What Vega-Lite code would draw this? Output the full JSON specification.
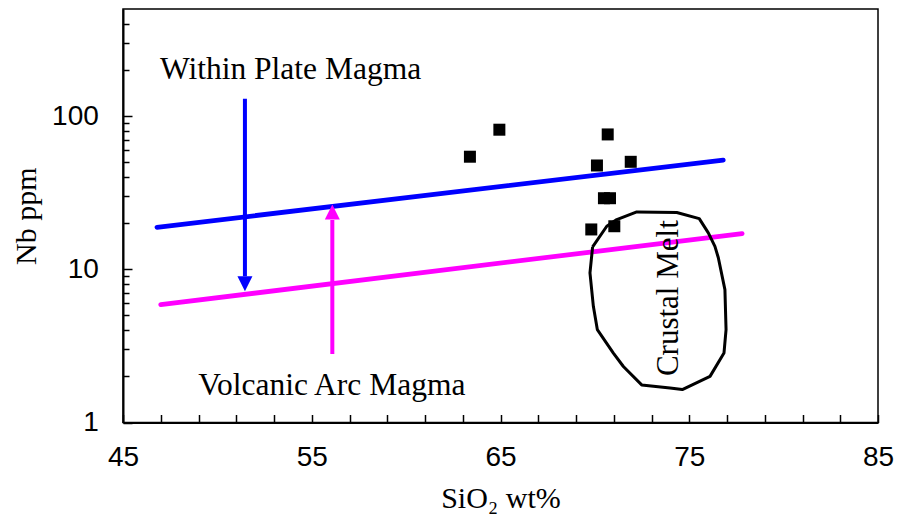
{
  "$schema": "https://vega.github.io/schema/vega-lite/v6.json",
  "width": 755,
  "height": 413.5,
  "autosize": "none",
  "padding": {"left": 123, "top": 9, "right": 27, "bottom": 96.5},
  "background": "white",
  "config": {
    "view": {"stroke": "black", "strokeWidth": 1.5},
    "axis": {
      "domainColor": "black",
      "domainWidth": 2,
      "tickColor": "black",
      "tickWidth": 1.5,
      "grid": false,
      "labelFont": "Liberation Sans",
      "labelFontSize": 28,
      "labelColor": "black",
      "titleFont": "Liberation Serif",
      "titleFontSize": 30,
      "titleFontWeight": "normal",
      "titleColor": "black"
    }
  },
  "datasets": {
    "within_plate": [
      {"x": 46.8, "y": 18.8},
      {"x": 76.8, "y": 51.6}
    ],
    "volcanic_arc": [
      {"x": 47.0, "y": 5.88},
      {"x": 77.8, "y": 17.1}
    ],
    "crustal_melt": [
      {"i": 1, "x": 69.88, "y": 14.0},
      {"i": 2, "x": 70.63, "y": 19.1},
      {"i": 3, "x": 71.16, "y": 21.1},
      {"i": 4, "x": 72.22, "y": 23.7},
      {"i": 5, "x": 74.34, "y": 23.5},
      {"i": 6, "x": 75.53, "y": 21.4},
      {"i": 7, "x": 76.01, "y": 17.3},
      {"i": 8, "x": 76.36, "y": 14.1},
      {"i": 9, "x": 76.54, "y": 11.9},
      {"i": 10, "x": 76.89, "y": 7.37},
      {"i": 11, "x": 76.95, "y": 4.04},
      {"i": 12, "x": 76.84, "y": 2.84},
      {"i": 13, "x": 76.10, "y": 2.0},
      {"i": 14, "x": 74.63, "y": 1.64},
      {"i": 15, "x": 73.98, "y": 1.68},
      {"i": 16, "x": 72.48, "y": 1.76},
      {"i": 17, "x": 71.51, "y": 2.32},
      {"i": 18, "x": 70.98, "y": 2.84},
      {"i": 19, "x": 70.13, "y": 4.04},
      {"i": 20, "x": 69.92, "y": 5.73},
      {"i": 21, "x": 69.74, "y": 9.47},
      {"i": 22, "x": 69.88, "y": 14.0}
    ],
    "shafts": [
      {"arrow": "down", "x": 51.46, "y": 130, "y2": 9.0},
      {"arrow": "up", "x": 56.09, "y": 2.8, "y2": 21.0}
    ],
    "heads": [
      {"arrow": "down", "x": 51.46, "y": 7.18},
      {"arrow": "up", "x": 56.09, "y": 26.5}
    ],
    "samples": [
      {"x": 63.38, "y": 54.3},
      {"x": 64.94, "y": 81.5},
      {"x": 70.68, "y": 75.9},
      {"x": 70.11, "y": 47.6},
      {"x": 71.90, "y": 50.3},
      {"x": 70.48, "y": 29.1},
      {"x": 70.80, "y": 29.1},
      {"x": 69.81, "y": 18.2},
      {"x": 71.03, "y": 19.1}
    ],
    "labels": [
      {"text": "Within Plate Magma", "x": 46.96, "y": 175.6},
      {"text": "Volcanic Arc Magma", "x": 48.99, "y": 1.517}
    ],
    "field_label": [
      {"text": "Crustal Melt", "x": 74.4, "y": 6.48}
    ]
  },
  "encoding": {
    "x": {
      "field": "x",
      "type": "quantitative",
      "scale": {"domain": [45, 85], "nice": false, "zero": false},
      "axis": {
        "title": "SiO₂ wt%",
        "values": [45, 47, 49, 51, 53, 55, 57, 59, 61, 63, 65, 67, 69, 71, 73, 75, 77, 79, 81, 83, 85],
        "labelExpr": "datum.value % 10 == 5 ? datum.value + '' : ''",
        "tickSize": -8,
        "labelPadding": 29,
        "titlePadding": 12,
        "labelFlush": false,
        "labelOverlap": false
      }
    },
    "y": {
      "field": "y",
      "type": "quantitative",
      "scale": {"type": "log", "domain": [1, 500], "nice": false},
      "axis": {
        "title": "Nb ppm",
        "values": [1, 2, 3, 4, 5, 6, 7, 8, 9, 10, 20, 30, 40, 50, 60, 70, 80, 90, 100, 200, 300, 400],
        "labelExpr": "datum.value == 1 ? '1' : datum.value == 10 ? '10' : datum.value == 100 ? '100' : ''",
        "tickSize": {"condition": {"test": "datum.value == 1 || datum.value == 10 || datum.value == 100", "value": -9}, "value": -6},
        "labelPadding": 33.7,
        "titlePadding": 10,
        "labelFlush": false,
        "labelOverlap": false
      }
    }
  },
  "layer": [
    {
      "data": {"name": "within_plate"},
      "mark": {"type": "line", "color": "#0000FF", "strokeWidth": 4.8, "strokeCap": "round"}
    },
    {
      "data": {"name": "volcanic_arc"},
      "mark": {"type": "line", "color": "#FF00FF", "strokeWidth": 4.8, "strokeCap": "round"}
    },
    {
      "data": {"name": "crustal_melt"},
      "mark": {"type": "line", "color": "black", "strokeWidth": 3, "strokeJoin": "round"},
      "encoding": {"order": {"field": "i", "type": "quantitative"}}
    },
    {
      "data": {"name": "shafts"},
      "mark": {"type": "rule", "strokeWidth": 4},
      "encoding": {
        "y2": {"field": "y2"},
        "color": {
          "field": "arrow",
          "type": "nominal",
          "scale": {"domain": ["down", "up"], "range": ["#0000FF", "#FF00FF"]},
          "legend": null
        }
      }
    },
    {
      "data": {"name": "heads"},
      "mark": {"type": "point", "filled": true, "opacity": 1, "size": 225, "strokeWidth": 0},
      "encoding": {
        "shape": {
          "field": "arrow",
          "type": "nominal",
          "scale": {"domain": ["down", "up"], "range": ["M-1,-2L1,-2L0,0Z", "M-1,2L1,2L0,0Z"]},
          "legend": null
        },
        "color": {
          "field": "arrow",
          "type": "nominal",
          "scale": {"domain": ["down", "up"], "range": ["#0000FF", "#FF00FF"]},
          "legend": null
        }
      }
    },
    {
      "data": {"name": "samples"},
      "mark": {"type": "square", "color": "black", "size": 144, "opacity": 1, "cornerRadius": 1}
    },
    {
      "data": {"name": "labels"},
      "mark": {"type": "text", "font": "Liberation Serif", "fontSize": 31.5, "align": "left", "baseline": "alphabetic", "color": "black"},
      "encoding": {"text": {"field": "text"}}
    },
    {
      "data": {"name": "field_label"},
      "mark": {"type": "text", "font": "Liberation Serif", "fontSize": 31, "align": "center", "baseline": "alphabetic", "angle": 270, "color": "black"},
      "encoding": {"text": {"field": "text"}}
    }
  ]
}
